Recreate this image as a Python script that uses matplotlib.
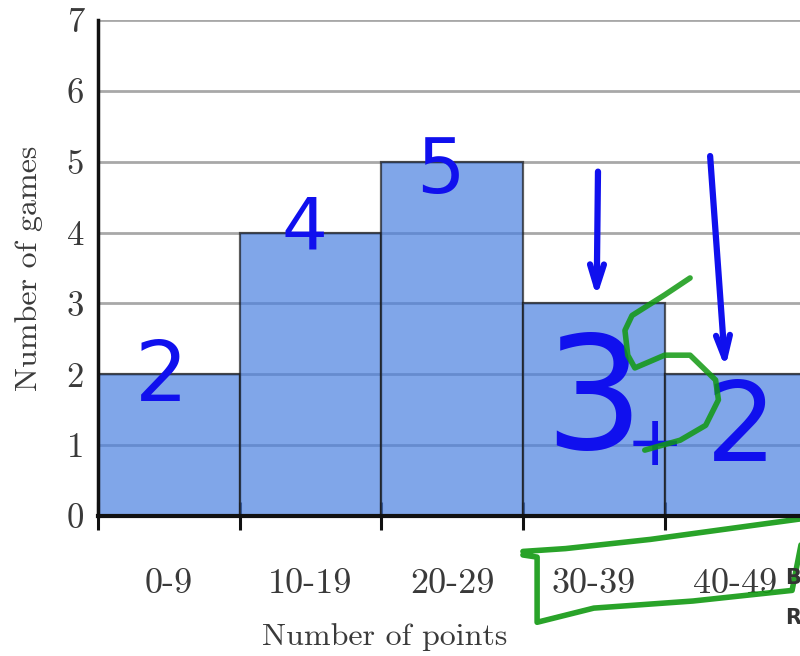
import matplotlib
matplotlib.use("Agg")
import matplotlib.pyplot as plt
import numpy as np

categories = ["0-9", "10-19", "20-29", "30-39", "40-49"]
counts = [2, 4, 5, 3, 2]
y_ticks = [0, 1, 2, 3, 4, 5, 6, 7]

plt.rcParams['font.family'] = ['cmr10', 'DejaVu Serif']
plt.rcParams['axes.formatter.use_mathtext'] = True
txt = '#3a3a3a'

fig = plt.figure(figsize=(8, 6.56), dpi=100)
ax = fig.add_axes([0.1225, 0.2134, 0.8853, 0.756])

x = np.arange(len(categories))
ax.bar(x + 0.5, counts, width=1.0, color='#4a80e0', alpha=0.7,
       edgecolor='#1a1a1a', linewidth=1.6, zorder=2)
ax.set_xlim(0, 5)
ax.set_ylim(0, 7)
ax.set_yticks(y_ticks)
ax.set_yticklabels([str(v) for v in y_ticks])
ax.yaxis.grid(True, color='#a8a8a8', linewidth=2, zorder=1)
ax.set_axisbelow(True)

ax.set_xticks(x + 0.5)
ax.set_xticklabels(categories)
ax.set_xticks(np.arange(len(categories) + 1), minor=True)
ax.tick_params(axis='x', which='major', length=0, pad=38, labelsize=26, labelcolor=txt)
ax.tick_params(axis='x', which='minor', direction='inout', length=20, width=2.2, color='#111')
ax.tick_params(axis='y', length=0, pad=10, labelsize=25, labelcolor=txt)

for s in ['top', 'right']:
    ax.spines[s].set_visible(False)
ax.spines['left'].set_linewidth(2.5)
ax.spines['left'].set_color('#111')
ax.spines['bottom'].set_linewidth(3)
ax.spines['bottom'].set_color('#111')

ax.set_xlabel("Number of points", fontsize=23, color=txt)
ax.set_ylabel("Number of games", fontsize=23, color=txt)
ax.xaxis.set_label_coords(0.405, -0.244)
ax.yaxis.set_label_coords(-0.098, 0.5)
ax.xaxis.label.set_va('center')
ax.yaxis.label.set_va('center')

# handwritten annotations
blue = '#1010ee'
green = '#119911'
hw = dict(family='DejaVu Sans', color=blue, ha='center', va='center', clip_on=False)
ax.text(0.45, 1.95, "2", fontsize=60, **hw)
ax.text(1.46, 4.05, "4", fontsize=52, **hw)
ax.text(2.42, 4.85, "5", fontsize=55, **hw)
ax.text(3.50, 1.55, "3", fontsize=112, **hw)
ax.text(3.93, 1.0, "+", fontsize=50, **hw)
ax.text(4.54, 1.2, "2", fontsize=80, **hw)

g5x = [4.18, 4.00, 3.77, 3.72, 3.74, 3.79, 4.00, 4.18, 4.36, 4.38, 4.29, 4.11, 3.86]
g5y = [3.36, 3.12, 2.83, 2.62, 2.27, 2.09, 2.27, 2.27, 1.92, 1.64, 1.28, 1.07, 0.93]
ax.plot(g5x, g5y, color=green, lw=4, alpha=0.85, solid_capstyle='round',
        solid_joinstyle='round', clip_on=False, zorder=5)

for (xs, ys, xe, ye) in [(3.53, 4.9, 3.52, 3.05), (4.32, 5.12, 4.43, 2.05)]:
    ax.annotate("", xy=(xe, ye), xytext=(xs, ys),
                arrowprops=dict(arrowstyle='->,head_length=1.6,head_width=0.5',
                                color=blue, lw=4.5))
bx = [3.0, 3.3, 3.9, 5.0, 5.0, 4.9, 4.2, 3.5, 3.1, 3.1, 3.0]
by = [-0.5, -0.46, -0.33, -0.03, -0.03, -1.05, -1.2, -1.3, -1.5, -0.58, -0.55]
ax.plot(bx, by, color=green, lw=4, clip_on=False, alpha=0.9, solid_capstyle='round')

for t, yy in [("B", 0.119), ("R", 0.058)]:
    fig.text(0.981, yy, t, fontsize=15, family='DejaVu Sans', fontweight='bold',
             color='#333', va='center')

fig.savefig("out.png", dpi=100)
